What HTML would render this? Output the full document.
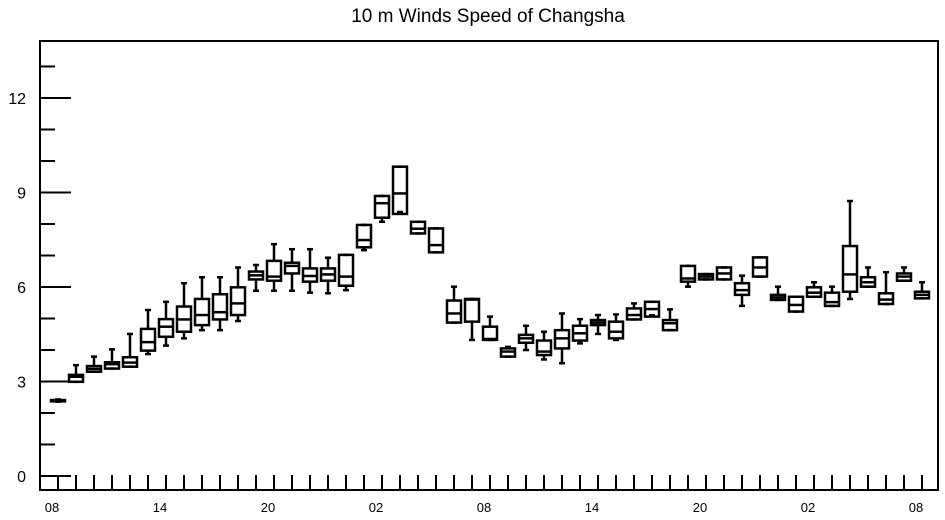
<!DOCTYPE html>
<html><head><meta charset="utf-8"><style>
body{margin:0;background:#fff}
svg{display:block;font-family:"Liberation Sans",sans-serif}
</style></head><body>
<svg id="chart" width="945" height="520" viewBox="0 0 945 520" xmlns="http://www.w3.org/2000/svg">
<text x="488" y="22" font-size="19" text-anchor="middle">10 m Winds Speed of Changsha</text>
<rect x="40" y="41" width="898" height="449" fill="none" stroke="#000" stroke-width="2"/>
<g id="axes"></g><g id="boxes"></g>
</svg>
<script>
const mins=[2.36,2.99,3.31,3.41,3.47,3.87,4.14,4.37,4.63,4.63,4.92,5.88,5.88,5.88,5.82,5.8,5.9,7.17,8.07,8.38,7.7,7.1,4.87,4.32,4.32,3.79,4.0,3.7,3.58,4.21,4.51,4.32,4.97,5.1,4.63,6.01,6.24,6.24,5.4,6.33,5.59,5.22,5.69,5.4,5.62,6.01,5.46,6.2,5.64];
const q1s=[2.37,2.99,3.31,3.41,3.47,3.98,4.42,4.58,4.79,4.97,5.11,6.24,6.2,6.43,6.17,6.2,6.04,7.26,8.2,8.32,7.7,7.1,4.87,4.9,4.32,3.79,4.23,3.84,4.05,4.3,4.79,4.37,4.97,5.06,4.63,6.17,6.24,6.24,5.75,6.33,5.59,5.22,5.69,5.4,5.85,6.01,5.46,6.2,5.64];
const meds=[2.39,3.15,3.4,3.55,3.6,4.25,4.74,4.97,5.11,5.2,5.48,6.37,6.33,6.67,6.35,6.4,6.33,7.49,8.66,8.97,7.85,7.33,5.16,5.6,4.35,3.95,4.37,3.95,4.37,4.53,4.87,4.58,5.11,5.3,4.85,6.27,6.33,6.43,5.9,6.62,5.67,5.43,5.82,5.52,6.4,6.15,5.6,6.33,5.75];
const q3s=[2.41,3.21,3.49,3.61,3.77,4.67,4.98,5.38,5.62,5.77,5.99,6.49,6.83,6.77,6.59,6.59,7.02,7.97,8.89,9.82,8.07,7.86,5.57,5.62,4.74,4.05,4.48,4.3,4.63,4.77,4.95,4.9,5.32,5.53,4.95,6.67,6.41,6.62,6.12,6.94,5.75,5.69,5.99,5.82,7.3,6.31,5.8,6.43,5.85];
const maxs=[2.43,3.52,3.79,4.02,4.51,5.27,5.53,6.12,6.31,6.31,6.62,6.7,7.36,7.2,7.2,6.93,7.02,7.97,8.89,9.82,8.07,7.86,6.01,5.62,5.06,4.1,4.77,4.58,5.16,4.98,5.11,5.13,5.48,5.53,5.29,6.67,6.41,6.62,6.36,6.94,6.01,5.69,6.15,6.01,8.73,6.62,6.47,6.62,6.15];
const yTicks=[0,3,6,9,12];
const xLabels=["08","14","20","02","08","14","20","02","08"];
const X=i=>58+18*i, Y=v=>476-31.5*v;
const NS="http://www.w3.org/2000/svg";
function mk(t,a,p){const e=document.createElementNS(NS,t);for(const k in a)e.setAttribute(k,a[k]);p.appendChild(e);return e;}
const ax=document.getElementById('axes');
for(let v=0;v<=13;v++){const major=v%3===0;
 const l=mk('line',{x1:40,x2:major?71:55,y1:Y(v),y2:Y(v),stroke:'#000','stroke-width':2},ax);
 
 }
yTicks.forEach(v=>{const t=mk('text',{x:26,y:Y(v)+6,'font-size':16,'text-anchor':'end'},ax);t.textContent=v;
 
 });
for(let i=0;i<mins.length;i++){const l=mk('line',{x1:X(i),x2:X(i),y1:490,y2:475,stroke:'#000','stroke-width':2},ax);
 
 }
xLabels.forEach((s,k)=>{const t=mk('text',{x:X(k*6)-6,y:512,'font-size':13,'text-anchor':'middle'},ax);t.textContent=s;
 
 });
const bx=document.getElementById('boxes');
for(let i=0;i<mins.length;i++){const g=mk('g',{stroke:'#000','stroke-width':2.5,fill:'none'},bx);
 
 
 const x=X(i),w=7;
 mk('line',{x1:x,x2:x,y1:Y(maxs[i]),y2:Y(q3s[i])},g);
 mk('line',{x1:x-3,x2:x+3,y1:Y(maxs[i]),y2:Y(maxs[i])},g);
 mk('line',{x1:x,x2:x,y1:Y(q1s[i]),y2:Y(mins[i])},g);
 mk('line',{x1:x-3,x2:x+3,y1:Y(mins[i]),y2:Y(mins[i])},g);
 mk('rect',{x:x-w,y:Y(q3s[i]),width:2*w,height:Math.max(1,Y(q1s[i])-Y(q3s[i]))},g);
 mk('line',{x1:x-w,x2:x+w,y1:Y(meds[i]),y2:Y(meds[i])},g);
}
</script>
</body></html>
